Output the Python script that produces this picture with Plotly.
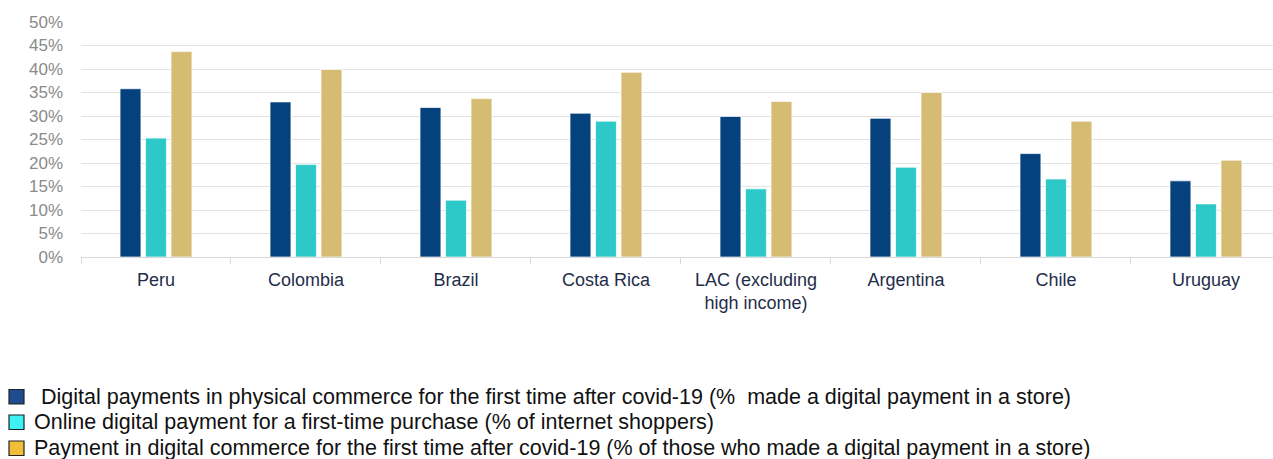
import plotly.graph_objects as go

# Countries / regions on the x axis
categories = ["Peru", "Colombia", "Brazil", "Costa Rica",
              "LAC (excluding<br>high income)", "Argentina", "Chile", "Uruguay"]

# Shares in percent
physical_first_time = [35.8, 33.0, 31.8, 30.6, 29.9, 29.5, 22.0, 16.2]
online_first_purchase = [25.3, 19.7, 12.1, 28.9, 14.5, 19.1, 16.6, 11.3]
digital_commerce_first_time = [43.7, 39.9, 33.7, 39.3, 33.1, 35.0, 28.9, 20.6]

series_names = [
    " Digital payments in physical commerce for the first time after covid-19 (%  made a digital payment in a store)",
    "Online digital payment for a first-time purchase (% of internet shoppers)",
    "Payment in digital commerce for the first time after covid-19 (% of those who made a digital payment in a store)",
]
bar_colors = ["#04417D", "#2DC9C8", "#D6BB72"]
key_colors = ["#1E4C8F", "#3DF2F2", "#F0BE38"]

y_ticks = list(range(0, 51, 5))

W, H = 1273, 459
fig = go.Figure()
for vals, name, col in zip(
    [physical_first_time, online_first_purchase, digital_commerce_first_time],
    series_names, bar_colors,
):
    fig.add_trace(go.Bar(
        x=categories, y=vals, name=name,
        marker=dict(color=col, line=dict(color="rgba(255,255,255,0.7)", width=1)),
        showlegend=False,
    ))

fig.update_layout(
    width=W, height=H,
    margin=dict(l=81, r=0, t=22, b=202),
    plot_bgcolor="white", paper_bgcolor="white",
    barmode="group", bargap=0.49, bargroupgap=0.18,
    font=dict(family="Liberation Sans, Arial, sans-serif"),
    xaxis=dict(
        type="category", range=[-0.5, 7.447],
        showline=True, linecolor="#D9D9D9", linewidth=1,
        ticks="outside", tickson="boundaries", ticklen=6, tickcolor="#D9D9D9",
        tickfont=dict(size=18, color="#1F2D4A"),
        ticklabelstandoff=6,
        showgrid=False,
    ),
    yaxis=dict(
        range=[0, 50], tickvals=y_ticks, ticktext=[f"{v}%" for v in y_ticks],
        showgrid=True, gridcolor="#E3E3E3", gridwidth=1,
        zeroline=False, showline=False,
        tickfont=dict(size=17, color="#8A8A8A"),
        ticklabelstandoff=17,
    ),
)

# Custom key below the chart
row_y = [396.5, 422, 448]
text_x = [33, 32, 32]
for i in range(3):
    fig.add_shape(
        type="rect", xref="paper", yref="paper",
        x0=(9 - 81) / (W - 81), x1=(24 - 81) / (W - 81),
        y0=(257 - (row_y[i] + 7.5)) / 235, y1=(257 - (row_y[i] - 7)) / 235,
        fillcolor=key_colors[i], line=dict(color="#222222", width=1.2),
    )
    fig.add_annotation(
        xref="paper", yref="paper",
        x=(text_x[i] - 81) / (W - 81), y=(257 - row_y[i]) / 235,
        xanchor="left", yanchor="middle", showarrow=False,
        text=series_names[i].replace(" ", "&nbsp;", 1) if i == 0 else series_names[i],
        font=dict(size=21.5, color="#111111"),
    )

fig.write_html("out.html")
